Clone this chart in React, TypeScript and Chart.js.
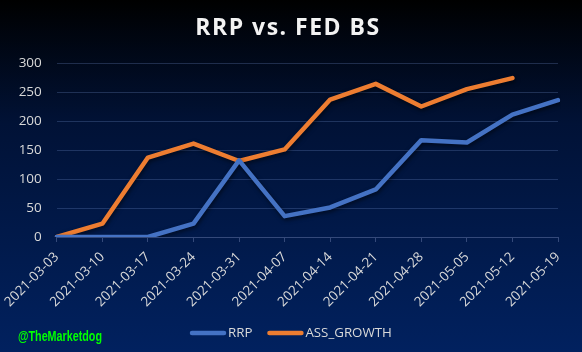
import React, { useEffect, useRef } from "react";
import { Chart, registerables } from "chart.js";

Chart.register(...registerables);

const categories = [
  "2021-03-03", "2021-03-10", "2021-03-17", "2021-03-24", "2021-03-31", "2021-04-07",
  "2021-04-14", "2021-04-21", "2021-04-28", "2021-05-05", "2021-05-12", "2021-05-19",
];
const rrp = [0, 0, 0, 23, 132, 36, 51, 82, 167, 163, 211, 236];
const assGrowth = [0, 23, 137, 161, 131, 151, 237, 264, 225, 255, 274, null];
const yTicks = [0, 50, 100, 150, 200, 250, 300];
const titleText = "RRP vs. FED BS";
const watermark = "@TheMarketdog";

const bgPlugin = {
  id: "bg",
  beforeDraw(chart: any) {
    const { ctx, width, height } = chart;
    const g = ctx.createLinearGradient(0, 0, 0, height);
    g.addColorStop(0, "#000000");
    g.addColorStop(0.35, "#011236");
    g.addColorStop(1, "#01215f");
    ctx.save();
    ctx.fillStyle = g;
    ctx.fillRect(0, 0, width, height);
    ctx.restore();
  },
};

const shadowPlugin = {
  id: "shadow",
  beforeDatasetsDraw(chart: any) {
    const ctx = chart.ctx;
    ctx.save();
    ctx.shadowColor = "rgba(0,0,0,0.55)";
    ctx.shadowBlur = 4;
    ctx.shadowOffsetX = 1;
    ctx.shadowOffsetY = 2;
  },
  afterDatasetsDraw(chart: any) {
    chart.ctx.restore();
  },
};

const overlayPlugin = {
  id: "overlay",
  afterDraw(chart: any) {
    const ctx = chart.ctx;
    ctx.save();
    // title
    ctx.font = 'bold 23px "Open Sans", sans-serif';
    ctx.fillStyle = "#f2f2f2";
    ctx.textAlign = "left";
    ctx.textBaseline = "alphabetic";
    (ctx as any).letterSpacing = "1.5px";
    const tw = ctx.measureText(titleText).width;
    ctx.fillText(titleText, 288 - tw / 2, 35);
    (ctx as any).letterSpacing = "0px";
    // watermark (condensed)
    ctx.save();
    ctx.font = 'bold 14px "Liberation Sans", Arial, sans-serif';
    ctx.fillStyle = "#00ff00";
    ctx.textBaseline = "alphabetic";
    ctx.textAlign = "left";
    ctx.translate(18, 341);
    const ww = ctx.measureText(watermark).width;
    ctx.scale(84 / ww, 1);
    ctx.fillText(watermark, 0, 0);
    ctx.restore();
    // legend
    ctx.font = '13.3px "Open Sans", sans-serif';
    ctx.textAlign = "left";
    ctx.textBaseline = "middle";
    const items = chart.data.datasets.map((d: any) => ({ label: d.label, color: d.borderColor }));
    const lineW = 36;
    const gap = 2;
    const itemGap = 15;
    const widths = items.map((it: any) => lineW + gap + ctx.measureText(it.label).width);
    let x = 190;
    const y = 333;
    items.forEach((it: any, i: number) => {
      ctx.strokeStyle = it.color;
      ctx.lineWidth = 4.5;
      ctx.lineCap = "round";
      ctx.beginPath();
      ctx.moveTo(x + 2, y);
      ctx.lineTo(x + lineW - 2, y);
      ctx.stroke();
      ctx.fillStyle = "#d9d9d9";
      ctx.fillText(it.label, x + lineW + gap, y);
      x += widths[i] + itemGap;
    });
    ctx.restore();
  },
};

export default function App() {
  const ref = useRef<HTMLCanvasElement | null>(null);
  useEffect(() => {
    if (!ref.current) return;
    const chart = new Chart(ref.current, {
      type: "line",
      data: {
        labels: categories,
        datasets: [
          {
            label: "RRP",
            data: rrp,
            borderColor: "#4472c4",
            backgroundColor: "#4472c4",
            borderWidth: 4.5,
            pointRadius: 0,
            tension: 0,
            borderCapStyle: "round",
            borderJoinStyle: "round",
          },
          {
            label: "ASS_GROWTH",
            data: assGrowth,
            borderColor: "#ed7d31",
            backgroundColor: "#ed7d31",
            borderWidth: 4.5,
            pointRadius: 0,
            tension: 0,
            borderCapStyle: "round",
            borderJoinStyle: "round",
          },
        ],
      },
      options: {
        animation: false,
        responsive: false,
        maintainAspectRatio: false,
        layout: { padding: { left: 0, right: 24, top: 63, bottom: 0 } },
        plugins: {
          legend: { display: false },
          tooltip: { enabled: false },
          title: { display: false },
        },
        scales: {
          x: {
            offset: false,
            grid: {
              display: true,
              drawOnChartArea: false,
              drawTicks: true,
              tickLength: 5,
              color: "#34497a",
            },
            border: { display: true, color: "#34497a" },
            ticks: {
              color: "#d9d9d9",
              font: { family: '"Open Sans", sans-serif', size: 13.5 },
              minRotation: 45,
              maxRotation: 45,
              autoSkip: false,
              padding: 7,
            },
            afterFit(scale: any) {
              scale.height = 115;
            },
          },
          y: {
            min: 0,
            max: 300,
            afterBuildTicks(scale: any) {
              scale.ticks = yTicks.map((v) => ({ value: v }));
            },
            grid: {
              color: "rgba(110,140,200,0.28)",
              drawTicks: false,
            },
            border: { display: false },
            ticks: {
              color: "#d9d9d9",
              font: { family: '"Open Sans", sans-serif', size: 13.5 },
              padding: 15,
            },
            afterFit(scale: any) {
              scale.width = 54;
            },
          },
        },
      },
      plugins: [bgPlugin, shadowPlugin, overlayPlugin],
    });
    return () => chart.destroy();
  }, []);
  return (
    <div style={{ position: "fixed", left: 0, top: 0, width: 582, height: 352 }}>
      <canvas ref={ref} width={582} height={352} style={{ display: "block" }} />
    </div>
  );
}
